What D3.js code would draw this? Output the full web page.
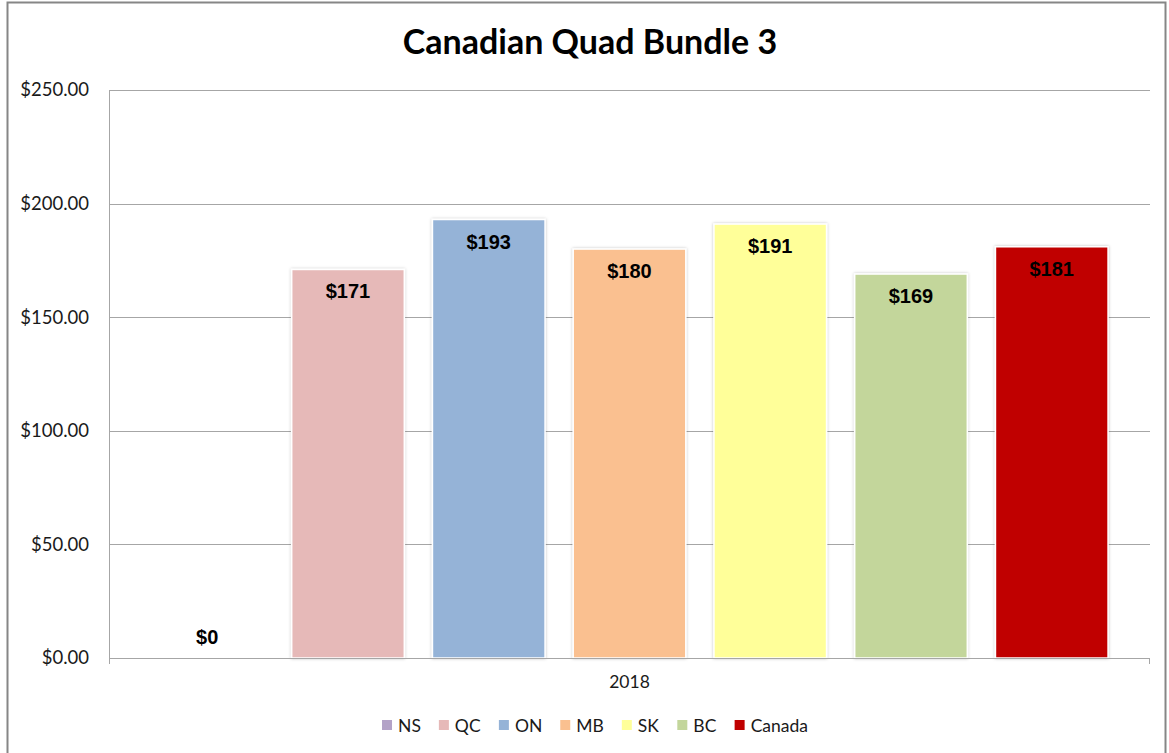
<!DOCTYPE html>
<html>
<head>
<meta charset="utf-8">
<script src="https://cdn.jsdelivr.net/npm/d3@7"></script>
<style>
  body { margin: 0; background: #fff; }
  svg { display: block; }
</style>
</head>
<body>
<div id="chart"></div>
<script>
const regions = ["NS", "QC", "ON", "MB", "SK", "BC", "Canada"];
const values = [0, 171, 193, 180, 191, 169, 181];
const colors = ["#B3A2C7", "#E6B9B8", "#95B3D7", "#FAC090", "#FFFF99", "#C3D69B", "#C00000"];
const yTicks = [0, 50, 100, 150, 200, 250];
const category = "2018";
const title = "Canadian Quad Bundle 3";

const W = 1169, H = 753;
const margin = { top: 90, right: 19, bottom: 95, left: 109 };
const width = W - margin.left - margin.right;
const height = H - margin.top - margin.bottom;

const svg = d3.select('#chart')
    .append('svg')
    .attr('width', W)
    .attr('height', H);

// outer frame
svg.append('rect')
    .attr('x', 7.5).attr('y', 2.5)
    .attr('width', 1158).attr('height', 760)
    .attr('fill', '#fff')
    .attr('stroke', '#868686')
    .attr('stroke-width', 2);

const defs = svg.append('defs');
const f = defs.append('filter').attr('id', 'shadow')
    .attr('x', '-10%').attr('y', '-10%').attr('width', '120%').attr('height', '120%');
f.append('feDropShadow').attr('dx', 0).attr('dy', 0).attr('stdDeviation', 1.5)
    .attr('flood-color', '#000').attr('flood-opacity', 0.25);

svg.append('text')
    .attr('x', 590).attr('y', 54)
    .attr('text-anchor', 'middle')
    .style('font-family', 'Lato, "Open Sans", sans-serif')
    .style('font-weight', 'bold')
    .style('font-size', '34px')
    .attr('fill', '#000')
    .text(title);

const g = svg.append('g')
    .attr('transform', `translate(${margin.left},${margin.top})`);

// scales
const y = d3.scaleLinear().domain([0, 250]).range([height, 0]);
const x = d3.scaleBand()
    .domain(regions)
    .range([0, width])
    .paddingInner(0.2)
    .paddingOuter(0.298);

// gridlines
g.append('g')
    .selectAll('line')
    .data(yTicks.slice(1))
    .join('line')
    .attr('x1', 0).attr('x2', width)
    .attr('y1', d => Math.round(y(d)) + 0.5)
    .attr('y2', d => Math.round(y(d)) + 0.5)
    .attr('stroke', '#A6A6A6')
    .attr('stroke-width', 1);

// y axis
const yAxis = d3.axisLeft(y)
    .tickValues(yTicks)
    .tickSize(0)
    .tickPadding(20)
    .tickFormat(d => '$' + d3.format('.2f')(d));

g.append('g')
    .call(yAxis)
    .call(s => s.select('.domain').attr('stroke', '#A6A6A6'))
    .selectAll('text')
    .style('font-family', 'Lato, "Open Sans", sans-serif')
    .style('font-size', '18.5px')
    .attr('fill', '#1a1a1a');

// bars
g.append('g')
    .selectAll('rect')
    .data(regions)
    .join('rect')
    .attr('x', d => x(d))
    .attr('y', (d, i) => y(values[i]))
    .attr('width', x.bandwidth())
    .attr('height', (d, i) => height - y(values[i]))
    .attr('fill', (d, i) => colors[i])
    .attr('stroke', '#fff')
    .attr('stroke-width', 1.5)
    .attr('filter', (d, i) => values[i] > 0 ? 'url(#shadow)' : null);

// x axis line
g.append('line')
    .attr('x1', 0).attr('x2', width)
    .attr('y1', height + 0.5).attr('y2', height + 0.5)
    .attr('stroke', '#A6A6A6');
g.append('line')
    .attr('x1', 0.5).attr('x2', 0.5)
    .attr('y1', height).attr('y2', height + 6)
    .attr('stroke', '#A6A6A6');
g.append('line')
    .attr('x1', width - 0.5).attr('x2', width - 0.5)
    .attr('y1', height).attr('y2', height + 6)
    .attr('stroke', '#A6A6A6');

g.append('text')
    .attr('x', width / 2).attr('y', height + 30)
    .attr('text-anchor', 'middle')
    .style('font-family', 'Lato, "Open Sans", sans-serif')
    .style('font-size', '17.5px')
    .attr('fill', '#1a1a1a')
    .text(category);

// value labels
g.append('g')
    .selectAll('text')
    .data(regions)
    .join('text')
    .attr('x', d => x(d) + x.bandwidth() / 2)
    .attr('y', (d, i) => values[i] > 0 ? y(values[i]) + 29 : height - 14)
    .attr('text-anchor', 'middle')
    .style('font-family', '"Liberation Sans", Arial, sans-serif')
    .style('font-weight', 'bold')
    .style('font-size', '20px')
    .attr('fill', '#000')
    .text((d, i) => '$' + values[i]);

// legend
const legend = svg.append('g').attr('transform', 'translate(0,725)');
let lx = 0;
const items = legend.selectAll('g')
    .data(regions)
    .join('g');
items.append('rect')
    .attr('y', -5).attr('width', 10).attr('height', 10)
    .attr('fill', (d, i) => colors[i]);
items.append('text')
    .attr('x', 16).attr('y', 6.5)
    .style('font-family', 'Lato, "Open Sans", sans-serif')
    .style('font-size', '17.5px')
    .attr('fill', '#1a1a1a')
    .text(d => d);
items.each(function () {
    const w = this.getBBox().width;
    d3.select(this).attr('transform', `translate(${lx},0)`);
    lx += w + 18;
});
legend.attr('transform', `translate(${595 - (lx - 18) / 2},725)`);
</script>
</body>
</html>
